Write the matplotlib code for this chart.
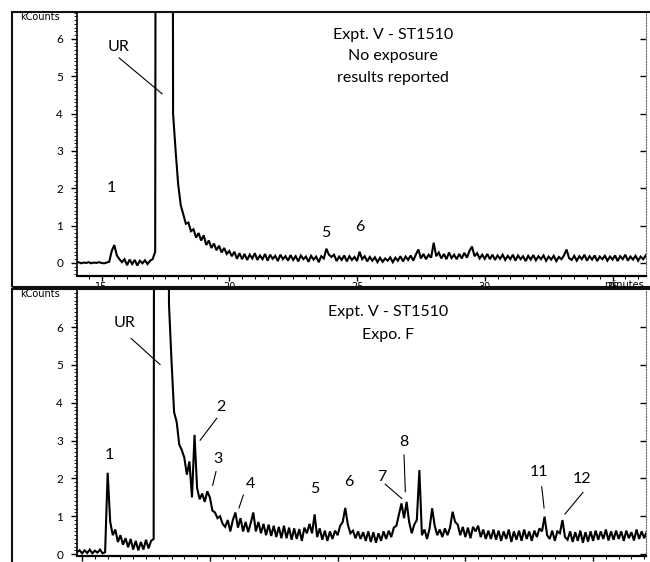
import numpy as np
import matplotlib
matplotlib.use("Agg")
import matplotlib.pyplot as plt
from matplotlib.patches import Rectangle
from matplotlib.ticker import MultipleLocator

plt.rcParams['font.family'] = ['Lato', 'DejaVu Sans']

# ---------------- data ----------------
start_time = 14.0          # minutes, first sample
sample_step = 0.1          # minutes between samples

# Upper trace: Expt. V - ST1510, no exposure (kCounts), one row per minute
top_counts = [
    0.01, 0.02, -0.01, 0.01, 0.0, 0.02, -0.01, 0.01, 0.0, 0.02,      # 14
    0.0, -0.01, 0.01, 0.03, 0.32, 0.48, 0.2, 0.1, 0.02, 0.1,         # 15
    -0.06, 0.09, -0.03, 0.08, -0.07, 0.06, -0.01, 0.07, -0.03, 0.06, # 16
    0.1, 0.3, 60, 60, 60, 60, 60, 60, 4.0, 3.0,                      # 17
    2.1, 1.55, 1.3, 1.05, 1.08, 0.85, 0.9, 0.68, 0.8, 0.6,           # 18
    0.74, 0.48, 0.6, 0.4, 0.52, 0.34, 0.46, 0.28, 0.4, 0.24,         # 19
    0.32, 0.18, 0.3, 0.11, 0.26, 0.1, 0.24, 0.08, 0.22, 0.12,        # 20
    0.26, 0.08, 0.2, 0.1, 0.24, 0.06, 0.22, 0.11, 0.19, 0.05,        # 21
    0.22, 0.1, 0.18, 0.06, 0.21, 0.08, 0.18, 0.04, 0.2, 0.1,         # 22
    0.17, 0.03, 0.19, 0.09, 0.17, 0.02, 0.18, 0.12, 0.38, 0.22,      # 23
    0.16, 0.22, 0.05, 0.17, 0.08, 0.2, 0.04, 0.18, 0.08, 0.16,       # 24
    0.05, 0.3, 0.1, 0.18, 0.04, 0.16, 0.06, 0.15, 0.02, 0.14,        # 25
    0.03, 0.12, 0.06, 0.15, 0.02, 0.14, 0.06, 0.18, 0.04, 0.17,      # 26
    0.08, 0.2, 0.06, 0.22, 0.36, 0.12, 0.24, 0.1, 0.22, 0.14,        # 27
    0.54, 0.18, 0.28, 0.12, 0.24, 0.1, 0.28, 0.13, 0.22, 0.1,        # 28
    0.24, 0.12, 0.27, 0.14, 0.32, 0.44, 0.18, 0.26, 0.12, 0.22,      # 29
    0.11, 0.24, 0.1, 0.22, 0.08, 0.2, 0.11, 0.22, 0.08, 0.19,        # 30
    0.1, 0.22, 0.06, 0.2, 0.1, 0.18, 0.05, 0.19, 0.09, 0.21,         # 31
    0.07, 0.18, 0.1, 0.2, 0.06, 0.17, 0.09, 0.19, 0.05, 0.16,        # 32
    0.1, 0.2, 0.36, 0.13, 0.08, 0.19, 0.06, 0.18, 0.1, 0.22,         # 33
    0.06, 0.18, 0.09, 0.2, 0.05, 0.17, 0.1, 0.19, 0.06, 0.17,        # 34
    0.09, 0.2, 0.05, 0.18, 0.1, 0.22, 0.06, 0.17, 0.09, 0.19,        # 35
    0.06, 0.17, 0.1, 0.2, 0.05, 0.18, 0.09, 0.19, 0.07, 0.17,        # 36
]

# Lower trace: Expt. V - ST1510, Expo. F (kCounts)
bottom_counts = [
    0.05, 0.1, 0.02, 0.08, 0.04, 0.12, 0.03, 0.09, 0.05, 0.1,        # 14
    0.02, 0.1, 0.03, 0.12, 0.02, 0.09, 0.04, 0.12, 0.02, 0.05,       # 15
    2.15, 0.85, 0.5, 0.65, 0.32, 0.5, 0.25, 0.42, 0.18, 0.4,         # 16
    0.12, 0.35, 0.1, 0.32, 0.12, 0.38, 0.15, 0.35, 0.4, 60,          # 17
    60, 60, 60, 60, 6.6, 5.1, 3.75, 3.5, 2.9, 2.75,                  # 18
    2.55, 2.1, 2.45, 1.5, 3.15, 1.75, 1.45, 1.6, 1.38, 1.66,         # 19
    1.5, 1.15, 1.1, 0.95, 1.0, 0.8, 0.72, 0.9, 0.6, 0.9,             # 20
    1.1, 0.7, 0.95, 0.6, 0.85, 0.58, 0.82, 1.1, 0.6, 0.85,           # 21
    0.55, 0.8, 0.5, 0.78, 0.48, 0.75, 0.45, 0.72, 0.42, 0.75,        # 22
    0.42, 0.7, 0.38, 0.68, 0.4, 0.66, 0.35, 0.7, 0.55, 0.8,          # 23
    0.55, 1.05, 0.45, 0.68, 0.38, 0.62, 0.35, 0.6, 0.4, 0.62,        # 24
    0.5, 0.75, 0.85, 1.22, 0.78, 0.55, 0.62, 0.42, 0.6, 0.4,         # 25
    0.58, 0.35, 0.6, 0.32, 0.58, 0.3, 0.55, 0.35, 0.6, 0.4,          # 26
    0.62, 0.45, 0.7, 0.75, 1.05, 1.34, 0.95, 1.38, 0.85, 0.55,       # 27
    0.78, 0.9, 2.22, 0.5, 0.65, 0.4, 0.68, 1.21, 0.75, 0.5,          # 28
    0.65, 0.45, 0.68, 0.5, 0.7, 1.12, 0.85, 0.78, 0.5, 0.72,         # 29
    0.45, 0.7, 0.42, 0.72, 0.6, 0.75, 0.45, 0.65, 0.4, 0.62,         # 30
    0.4, 0.65, 0.38, 0.62, 0.35, 0.6, 0.4, 0.65, 0.32, 0.6,          # 31
    0.38, 0.62, 0.35, 0.65, 0.4, 0.6, 0.35, 0.62, 0.45, 0.68,        # 32
    0.6, 0.99, 0.5, 0.4, 0.62, 0.35, 0.6, 0.55, 0.9, 0.45,           # 33
    0.38, 0.6, 0.32, 0.58, 0.35, 0.62, 0.3, 0.58, 0.33, 0.6,         # 34
    0.35, 0.62, 0.38, 0.6, 0.4, 0.65, 0.36, 0.6, 0.38, 0.62,         # 35
    0.4, 0.6, 0.35, 0.62, 0.42, 0.58, 0.36, 0.65, 0.4, 0.6,          # 36
    0.42, 0.6, 0.38, 0.62, 0.4, 0.58, 0.42, 0.6, 0.4, 0.58,          # 37
]

x_ticks = [15, 20, 25, 30, 35]
y_ticks = [0, 1, 2, 3, 4, 5, 6]
top_title = ["Expt. V - ST1510", "No exposure", "results reported"]
bottom_title = ["Expt. V - ST1510", "Expo. F"]
top_peak_labels = ["UR", "1", "5", "6"]
bottom_peak_labels = ["UR", "1", "2", "3", "4", "5", "6", "7", "8", "11", "12"]

# ---------------- figure ----------------
W, H = 650, 562
fig = plt.figure(figsize=(W / 100, H / 100), dpi=100)


def px_rect(l, t, r, b):
    return [l / W, 1 - b / H, (r - l) / W, (b - t) / H]


ax_top = fig.add_axes(px_rect(77, 12, 646, 276))
ax_bot = fig.add_axes(px_rect(77, 290, 646, 556))


def style_axis(ax, xlim, ylim):
    ax.set_xlim(*xlim)
    ax.set_ylim(*ylim)
    ax.set_xticks(x_ticks)
    ax.set_yticks(y_ticks)
    ax.xaxis.set_minor_locator(MultipleLocator(0.5))
    ax.yaxis.set_minor_locator(MultipleLocator(0.1))
    ax.tick_params(axis='y', which='major', length=4, width=1.0, labelsize=8.5, pad=6)
    ax.tick_params(axis='y', which='minor', length=2, width=0.6)
    ax.tick_params(axis='x', which='major', length=3.5, width=1.0, labelsize=7, pad=1)
    ax.tick_params(axis='x', which='minor', length=2.5, width=0.7)
    for lab in ax.get_xticklabels():
        lab.set_family('DejaVu Sans')
    ax.spines['top'].set_visible(False)
    ax.spines['left'].set_linewidth(1.2)
    ax.spines['bottom'].set_linewidth(1.6)
    ax.spines['right'].set_linestyle((0, (1, 1.5)))
    ax.spines['right'].set_linewidth(0.8)
    ax.spines['right'].set_color('#666666')
    sec = ax.secondary_yaxis('right')
    sec.set_yticks(y_ticks)
    sec.tick_params(direction='in', length=4, width=1.0, labelright=False)
    sec.spines['right'].set_visible(False)
    ax.patch.set_alpha(0)


def trace(ax, counts):
    t = start_time + sample_step * np.arange(len(counts))
    ax.plot(t, counts, color='black', lw=1.5, solid_joinstyle='miter')


trace(ax_top, top_counts)
trace(ax_bot, bottom_counts)
style_axis(ax_top, (14.04, 36.31), (-0.35, 6.72))
style_axis(ax_bot, (14.80, 37.07), (-0.05, 6.98))

lab_fs = 11.5
# top panel labels
top_pos = [(15.65, 5.79), (15.4, 2.0), (23.77, 0.8), (25.09, 0.97)]
for s, (x, y) in zip(top_peak_labels, top_pos):
    ax_top.text(x, y, s, ha='center', va='center', fontsize=lab_fs)
ax_top.plot([15.69, 17.37], [5.49, 4.53], color='black', lw=0.8)
for i, s in enumerate(top_title):
    ax_top.text(26.41, 6.1 - i * 0.57, s, ha='center', va='center', fontsize=lab_fs)

# bottom panel labels
bot_pos = [(16.68, 6.1), (16.07, 2.62), (20.43, 3.88), (20.3, 2.51), (21.58, 1.84),
           (24.12, 1.71), (25.45, 1.91), (26.73, 2.04), (27.58, 2.97), (32.89, 2.18),
           (34.58, 1.98)]
for s, (x, y) in zip(bottom_peak_labels, bot_pos):
    ax_bot.text(x, y, s, ha='center', va='center', fontsize=lab_fs)
bot_leaders = [((16.92, 18.05), (5.70, 5.01)), ((20.27, 19.62), (3.59, 3.01)),
               ((20.24, 20.11), (2.18, 1.82)), ((21.31, 21.14), (1.56, 1.22)),
               ((26.86, 27.51), (1.85, 1.47)), ((27.60, 27.65), (2.62, 1.65)),
               ((32.99, 33.08), (1.78, 1.22)), ((34.60, 33.90), (1.63, 1.06))]
for xs, ys in bot_leaders:
    ax_bot.plot(xs, ys, color='black', lw=0.8)
for i, s in enumerate(bottom_title):
    ax_bot.text(26.96, 6.40 - i * 0.61, s, ha='center', va='center', fontsize=lab_fs)

# panel frames
for (l, t, r, b) in [(12, 12, 660, 287), (12, 289, 660, 575)]:
    fig.add_artist(Rectangle((l / W, 1 - b / H), (r - l) / W, (b - t) / H,
                             transform=fig.transFigure, fill=False,
                             edgecolor='#111111', lw=1.5))

# axis captions
fig.text(20 / W, 1 - 17 / H, "kCounts", fontsize=7, ha='left', va='center', family='DejaVu Sans')
fig.text(20 / W, 1 - 294 / H, "kCounts", fontsize=7, ha='left', va='center', family='DejaVu Sans')
fig.text(644 / W, 1 - 285 / H, "minutes", fontsize=7, ha='right', va='center', family='DejaVu Sans')

fig.savefig("out.png", dpi=100)
